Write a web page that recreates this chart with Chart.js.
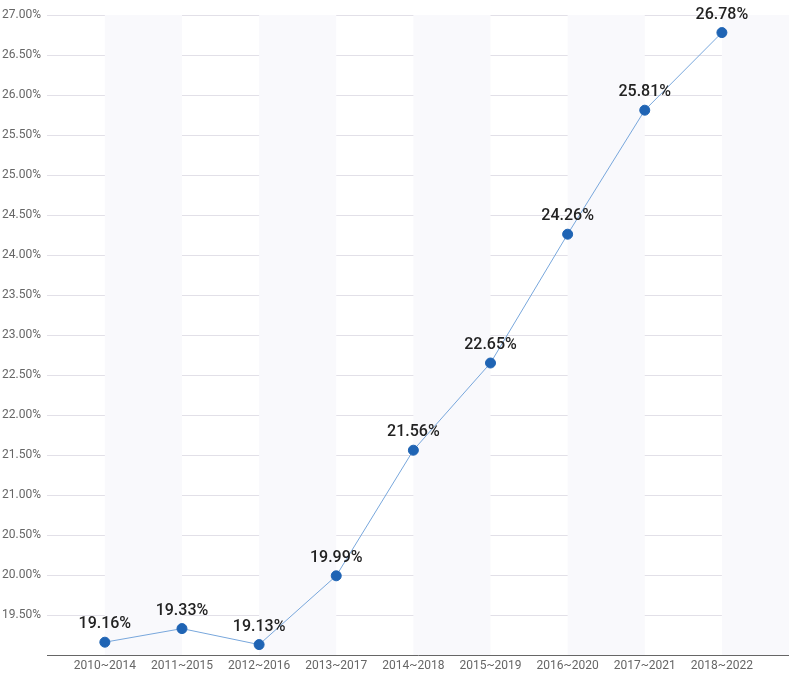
<!DOCTYPE html>
<html>
<head>
<meta charset="utf-8">
<script src="https://cdn.jsdelivr.net/npm/chart.js@4"></script>
<style>
  html, body { margin: 0; padding: 0; background: #fff; overflow: hidden; }
  #wrap { width: 789px; height: 675px; overflow: hidden; }
  canvas { display: block; }
</style>
</head>
<body>
<div id="wrap">
<!-- 6px wider than the window: Chart.js keeps half a point size free on the right -->
<canvas id="chart" width="795" height="675" style="width:795px;height:675px"></canvas>
</div>
<script>
// periods on the x axis
const periods = ['2010~2014', '2011~2015', '2012~2016', '2013~2017', '2014~2018',
  '2015~2019', '2016~2020', '2017~2021', '2018~2022'];
// share, in percent
const shares = [19.16, 19.33, 19.13, 19.99, 21.56, 22.65, 24.26, 25.81, 26.78];
// y axis range and step
const yMin = 19.0, yMax = 27.0, yStep = 0.5;

// shaded column bands, every second interval between category centres
const bandPlugin = {
  id: 'bands',
  beforeDatasetsDraw(chart) {
    const {ctx, chartArea, scales: {x}} = chart;
    ctx.save();
    ctx.fillStyle = '#f9f9fc';
    for (let i = 0; i < periods.length; i += 2) {
      let x0 = x.getPixelForValue(i), x1 = x.getPixelForValue(i + 1);
      x1 = Math.min(x1, chartArea.right);
      ctx.fillRect(x0, chartArea.top, x1 - x0, chartArea.bottom - chartArea.top);
    }
    ctx.restore();
  },
};

// value labels above the points
const labelPlugin = {
  id: 'valueLabels',
  afterDatasetsDraw(chart) {
    const {ctx} = chart;
    const meta = chart.getDatasetMeta(0);
    ctx.save();
    ctx.font = '500 16px Roboto';
    ctx.fillStyle = '#222';
    ctx.textAlign = 'center';
    ctx.textBaseline = 'middle';
    meta.data.forEach((pt, i) => {
      ctx.fillText(shares[i].toFixed(2) + '%', pt.x, pt.y - 18);
    });
    ctx.restore();
  },
};

new Chart(document.getElementById('chart'), {
  type: 'line',
  data: {
    datasets: [{
      data: shares.map((v, i) => ({x: i, y: v})),
      borderColor: '#78a7dc',
      borderWidth: 1,
      pointBackgroundColor: '#1f64b4',
      pointBorderColor: '#1f64b4',
      pointRadius: 5,
      pointHoverRadius: 5,
      tension: 0,
      clip: false,
    }],
  },
  options: {
    responsive: false,
    animation: false,
    layout: {padding: {top: 15, right: 0, left: 0, bottom: 0}},
    plugins: {legend: {display: false}, tooltip: {enabled: false}},
    scales: {
      x: {
        type: 'linear',
        min: -0.75,
        max: 8.87,
        afterBuildTicks(scale) {
          scale.ticks = periods.map((p, i) => ({value: i}));
        },
        ticks: {
          autoSkip: false,
          maxRotation: 0,
          color: '#666',
          font: {family: 'Roboto', size: 12},
          padding: 4,
          callback: (v) => periods[v] ?? '',
        },
        grid: {display: false, drawTicks: false},
        border: {display: true, color: '#666', width: 1},
        afterFit(scale) {
          scale.height = 20;
          scale.paddingLeft = 0;
          scale.paddingRight = 0;
        },
      },
      y: {
        min: yMin,
        max: yMax,
        ticks: {
          stepSize: yStep,
          color: '#666',
          font: {family: 'Roboto', size: 12},
          padding: 6,
          callback: (v) => v <= yMin ? '' : v.toFixed(2) + '%',
        },
        grid: {color: '#e2e0e8', drawTicks: false},
        border: {display: false},
        afterFit(scale) {
          scale.width = 47;
          scale.paddingTop = 0;
          scale.paddingBottom = 0;
        },
      },
    },
  },
  plugins: [bandPlugin, labelPlugin],
});
</script>
</body>
</html>
